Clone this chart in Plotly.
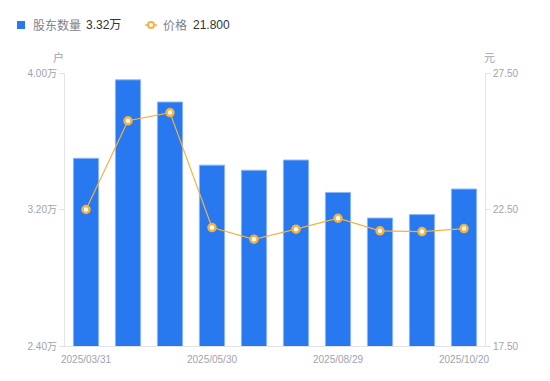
import plotly.graph_objects as go

holders = [3.50, 3.96, 3.83, 3.46, 3.43, 3.49, 3.30, 3.15, 3.17, 3.32]  # 万户
price = [22.50, 25.75, 26.05, 21.84, 21.41, 21.78, 22.18, 21.72, 21.69, 21.80]
tick_labels = ["2025/03/31", "2025/05/30", "2025/08/29", "2025/10/20"]
tick_pos = [0, 3, 6, 9]
left_ticks = [2.40, 3.20, 4.00]
left_text = ["2.40万", "3.20万", "4.00万"]
right_ticks = [17.5, 22.5, 27.5]
right_text = ["17.50", "22.50", "27.50"]
legend_names = ["股东数量", "价格"]
legend_values = ["3.32万", "21.800"]

idx = list(range(len(holders)))
BLUE = "#2878F0"
ORANGE = "#F6B23E"
GRAY = "#A0A3AD"
LGRAY = "#7E8190"
DARK = "#333333"
AXIS = "#E3E4E8"

# page offset caused by the default 8px body margin
O = 8
W, H = 550 - O, 381 - O
L, T = 65 - O, 73 - O
R = W - (485 - O)
B = H - (346 - O)
PW, PH = W - L - R, H - T - B


def px(x):
    return (x - O - L) / PW


def py(y):
    return 1 + (T - (y - O)) / PH


fig = go.Figure()
fig.add_trace(go.Bar(
    x=idx, y=holders, width=0.6,
    marker=dict(color=BLUE, line=dict(color="#8DB6F6", width=1)),
    name=legend_names[0], yaxis="y", showlegend=False,
))
fig.add_trace(go.Scatter(
    x=idx, y=price, mode="lines+markers",
    line=dict(color=ORANGE, width=1.2),
    marker=dict(color="#FFFFFF", size=7, line=dict(color=ORANGE, width=2.5)),
    name=legend_names[1], yaxis="y2", showlegend=False,
))

tick_font = dict(size=10, color=GRAY, family="Liberation Sans, Noto Sans CJK SC, sans-serif")

shapes = [
    dict(type="rect", xref="paper", yref="paper", x0=px(17), x1=px(25), y0=py(29), y1=py(21),
         fillcolor=BLUE, line=dict(width=0)),
    dict(type="line", xref="paper", yref="paper", x0=px(145), x1=px(157), y0=py(25), y1=py(25),
         line=dict(color=ORANGE, width=1.5)),
    dict(type="circle", xref="paper", yref="paper", x0=px(148), x1=px(154), y0=py(28), y1=py(22),
         fillcolor="#FFFFFF", line=dict(color=ORANGE, width=2)),
]

leg_font_name = dict(size=12, color=LGRAY, family="Noto Sans CJK SC, sans-serif")
leg_font_val = dict(size=12, color=DARK, family="Liberation Sans, Noto Sans CJK SC, sans-serif")
annotations = [
    dict(text=legend_names[0], x=px(31), y=py(25), font=leg_font_name),
    dict(text=legend_values[0], x=px(84), y=py(25), font=leg_font_val),
    dict(text=legend_names[1], x=px(161), y=py(25), font=leg_font_name),
    dict(text=legend_values[1], x=px(191), y=py(25), font=leg_font_val),
]
for a in annotations:
    a.update(xref="paper", yref="paper", xanchor="left", yanchor="middle", showarrow=False)
annotations += [
    dict(text="户", xref="paper", yref="paper", x=px(58), y=py(57), showarrow=False,
         xanchor="center", yanchor="middle", font=dict(size=11, color=GRAY)),
    dict(text="元", xref="paper", yref="paper", x=px(489), y=py(57), showarrow=False,
         xanchor="center", yanchor="middle", font=dict(size=11, color=GRAY)),
]

fig.update_layout(
    width=W, height=H,
    margin=dict(l=L, r=R, t=T, b=B),
    paper_bgcolor="white", plot_bgcolor="white",
    font=dict(family="Noto Sans CJK SC, Noto Sans, sans-serif", color=GRAY, size=11),
    showlegend=False,
    xaxis=dict(range=[-0.5, 9.5], tickmode="array", tickvals=tick_pos, ticktext=tick_labels,
               showgrid=False, zeroline=False, showline=True, linecolor=AXIS, linewidth=1,
               ticks="", tickfont=tick_font, automargin=False, ticklabelstandoff=4),
    yaxis=dict(range=[2.40, 4.00], tickmode="array", tickvals=left_ticks, ticktext=left_text,
               showgrid=False, zeroline=False, showline=True, linecolor=AXIS, linewidth=1,
               ticks="outside", ticklen=5, tickcolor=AXIS, tickfont=tick_font, automargin=False),
    yaxis2=dict(range=[17.5, 27.5], overlaying="y", side="right", tickmode="array",
                tickvals=right_ticks, ticktext=right_text,
                showgrid=False, zeroline=False, showline=True, linecolor=AXIS, linewidth=1,
                ticks="outside", ticklen=5, tickcolor=AXIS, tickfont=tick_font, automargin=False),
    shapes=shapes,
    annotations=annotations,
)

fig.write_html("out.html")
